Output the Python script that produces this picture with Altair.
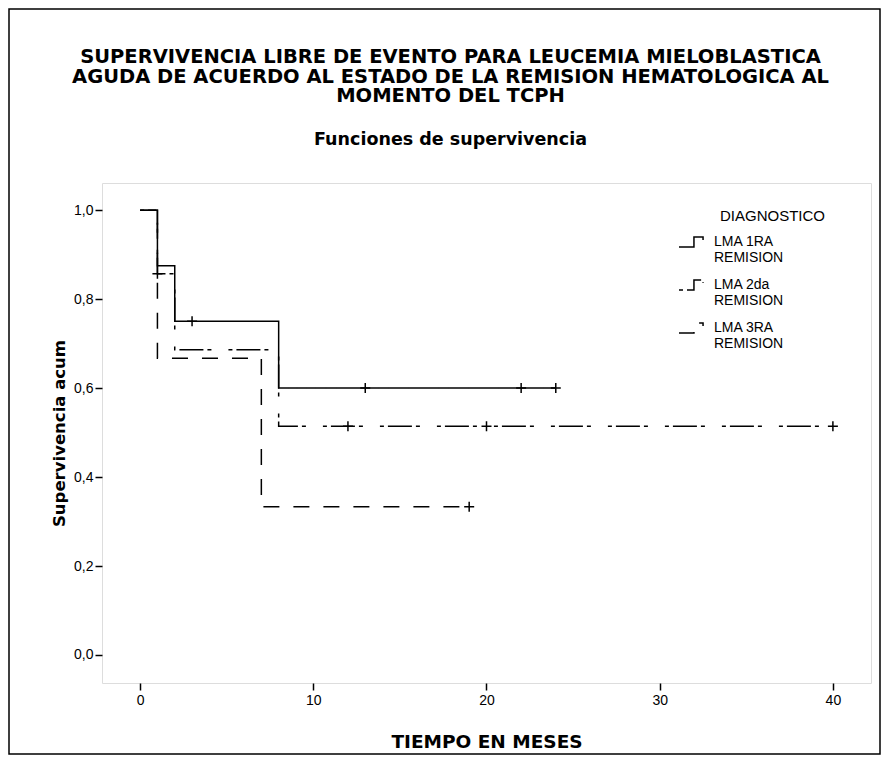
import altair as alt
import pandas as pd

FONT = "Liberation Sans"
BOLD = "DejaVu Sans"

groups = ["LMA 1RA|REMISION", "LMA 2da|REMISION", "LMA 3RA|REMISION"]
legend_title = "DIAGNOSTICO"

# Kaplan-Meier step curves (time in months, cumulative survival)
t_1ra = [0, 1, 2, 8, 24]
s_1ra = [1.0, 0.875, 0.75, 0.6, 0.6]
t_2da = [0, 1, 2, 8, 40]
s_2da = [1.0, 0.857, 0.686, 0.514, 0.514]
t_3ra = [0, 1, 7, 19]
s_3ra = [1.0, 0.667, 0.333, 0.333]

# censored observations
ct_1ra = [3, 13, 22, 24]
cs_1ra = [0.75, 0.6, 0.6, 0.6]
ct_2da = [1, 12, 20, 40]
cs_2da = [0.857, 0.514, 0.514, 0.514]
ct_3ra = [19]
cs_3ra = [0.333]

x_ticks = [0, 10, 20, 30, 40]
y_ticks = [0.0, 0.2, 0.4, 0.6, 0.8, 1.0]

curves = [(groups[0], t_1ra, s_1ra), (groups[1], t_2da, s_2da), (groups[2], t_3ra, s_3ra)]
cens = [(groups[0], ct_1ra, cs_1ra), (groups[1], ct_2da, cs_2da), (groups[2], ct_3ra, cs_3ra)]

line_df = pd.DataFrame(
    [{"g": g, "t": t, "s": s} for g, ts, ss in curves for t, s in zip(ts, ss)]
)
cens_df = pd.DataFrame(
    [{"g": g, "t": t, "s": s} for g, ts, ss in cens for t, s in zip(ts, ss)]
)

xscale = alt.Scale(domain=[-2.2, 42.2], nice=False, zero=False)
yscale = alt.Scale(domain=[-0.063, 1.061], nice=False, zero=False)

xaxis = alt.Axis(
    values=x_ticks, title="TIEMPO EN MESES", grid=False, domain=False,
    tickColor="black", tickSize=7, tickWidth=1.5, labelFontSize=14, labelPadding=3,
    labelColor="black", labelFont=FONT, titleFont=BOLD, titleFontSize=18.5,
    titleFontWeight="bold", titleColor="black", titlePadding=25,
)
yaxis = alt.Axis(
    values=y_ticks, format=".1f", labelExpr="replace(datum.label, '.', ',')",
    title="Supervivencia acum", grid=False, domain=False,
    tickColor="black", tickSize=7, tickWidth=1.5, labelFontSize=14, labelPadding=2,
    labelColor="black", labelFont=FONT, titleFont=BOLD, titleFontSize=16.5,
    titleFontWeight="bold", titleColor="black", titlePadding=6,
)

lines = alt.Chart(line_df).mark_line(
    interpolate="step-after", color="black", strokeWidth=1.5
).encode(
    x=alt.X("t:Q", scale=xscale, axis=xaxis),
    y=alt.Y("s:Q", scale=yscale, axis=yaxis),
    strokeDash=alt.StrokeDash(
        "g:N",
        scale=alt.Scale(domain=groups, range=[[1, 0], [4, 4, 24, 4, 4, 17], [16, 14]]),
        legend=alt.Legend(
            title=None, orient="none", legendX=576, legendY=45,
            symbolType="M-1,0.38H0.15V-0.38H0.85V-0.15", symbolSize=676,
            symbolStrokeWidth=1.5, symbolStrokeColor="black",
            symbolFillColor="transparent",
            labelExpr="split(datum.label, '|')", labelFont=FONT, labelFontSize=14,
            labelColor="black", labelOffset=8, rowPadding=6,
        ),
    ),
)

marks = alt.Chart(cens_df).mark_point(
    shape="M-1,0H1M0,-1V1", size=100, filled=False, color="black",
    strokeWidth=1.5, opacity=1,
).encode(x=alt.X("t:Q", scale=xscale), y=alt.Y("s:Q", scale=yscale))

legend_head = alt.Chart(alt.Data(values=[{}])).mark_text(
    text=legend_title, align="left", baseline="middle", font=FONT, fontSize=15,
    color="black",
).encode(x=alt.value(618), y=alt.value(33))

frame = alt.Chart(alt.Data(values=[{}])).mark_rect(
    fillOpacity=0, stroke="black", strokeWidth=1.5
).encode(
    x=alt.value(-93), x2=alt.value(778), y=alt.value(-174), y2=alt.value(571)
)

chart = alt.layer(frame, lines, marks, legend_head).properties(
    width=769,
    height=500,
    padding={"left": 94, "top": 175, "right": 10, "bottom": 72},
    autosize=alt.AutoSizeParams(type="none"),
    title=alt.Title(
        text=[
            "SUPERVIVENCIA LIBRE DE EVENTO PARA LEUCEMIA MIELOBLASTICA",
            "AGUDA DE ACUERDO AL ESTADO DE LA REMISION HEMATOLOGICA AL",
            "MOMENTO DEL TCPH",
        ],
        subtitle="Funciones de supervivencia",
        font=BOLD, fontSize=19.5, fontWeight="bold", color="black", lineHeight=19.5,
        subtitleFont=BOLD, subtitleFontSize=17.5, subtitleFontWeight="bold",
        subtitleColor="black", subtitlePadding=24, anchor="middle", offset=-141,
        dx=-36,
    ),
).configure_view(stroke="black", strokeWidth=2).configure(background="white")

chart.save("out.html", embed_options={"renderer": "svg", "actions": False})
